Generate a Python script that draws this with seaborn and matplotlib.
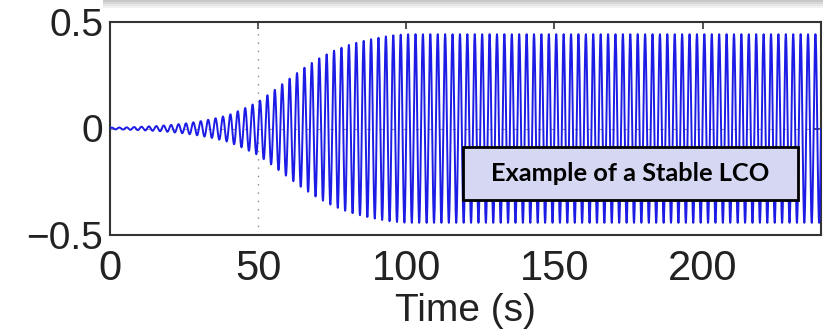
import numpy as np
import pandas as pd
import matplotlib
matplotlib.use("Agg")
import matplotlib.pyplot as plt
import seaborn as sns
from matplotlib.patches import Rectangle

# ---- data ----
env_time = [0, 5, 10, 15, 20, 25, 30, 35, 40, 45, 50, 55, 60, 65, 70, 75, 80, 85, 90, 95, 100, 240]
env_amp = [0.004, 0.005, 0.008, 0.011, 0.016, 0.023, 0.033, 0.046, 0.063, 0.092, 0.125, 0.175,
           0.228, 0.28, 0.325, 0.362, 0.39, 0.41, 0.425, 0.437, 0.443, 0.443]
period_s = 2.5
xticks = [0, 50, 100, 150, 200]
yticks = [-0.5, 0, 0.5]
ytick_labels = ["\u22120.5", "0", "0.5"]
marker_time = 50
x_label = "Time (s)"
box_text = "Example of a Stable LCO"

t = np.arange(0, 240.001, 0.04)
amp = np.interp(t, env_time, env_amp)
resp = amp * np.sin(2 * np.pi * t / period_s)
df = pd.DataFrame({"Time (s)": t, "response": resp})

sns.set_style("white")
plt.rcParams["font.family"] = ["Liberation Sans", "DejaVu Sans"]

W, H = 831, 334
fig = plt.figure(figsize=(W / 100, H / 100), dpi=100)
L, R, T, B = 110, 821, 22, 235
ax = fig.add_axes([L / W, 1 - B / H, (R - L) / W, (B - T) / H])

sns.lineplot(data=df, x="Time (s)", y="response", ax=ax, color="#1c1ce6",
             lw=1.4, estimator=None, zorder=3)
ax.axvline(marker_time, color="#8a8a8a", ls=(0, (1, 5)), lw=1.0, zorder=2)
ax.axhline(0, color="#9a9a9a", ls=(0, (3, 8)), lw=0.8, zorder=1)

ax.set_xlim(0, 240)
ax.set_ylim(-0.5, 0.5)
ax.set_xticks(xticks)
ax.set_xticklabels([str(v) for v in xticks], fontsize=30)
ax.set_yticks(yticks)
ax.set_yticklabels(ytick_labels, fontsize=28)
ax.set_ylabel("")
ax.set_xlabel(x_label, fontsize=28, color="#222222", labelpad=3)
ax.tick_params(axis="both", direction="in", top=True, right=True, length=5,
               width=1.2, colors="#333333", labelcolor="#222222")
ax.tick_params(axis="x", pad=10)
ax.tick_params(axis="y", pad=5)
for s in ax.spines.values():
    s.set_color("#333333")
    s.set_linewidth(1.5)

# label box
bx0, bx1, by0, by1 = 463, 798, 147, 200
fig.add_artist(Rectangle((bx0 / W, 1 - by1 / H), (bx1 - bx0) / W, (by1 - by0) / H,
                         transform=fig.transFigure, facecolor="#d6d8f3",
                         edgecolor="black", lw=2, zorder=10))
fig.text((bx0 + bx1) / 2 / W, 1 - (by0 + by1) / 2 / H, box_text, ha="center", va="center",
         fontsize=18.3, fontweight="bold", family=["Lato", "DejaVu Sans"], color="black",
         zorder=11)

# grey shadow strip at the top
for i, c in enumerate(["#c8c8c8", "#d8d8d8", "#e6e6e6", "#f1f1f1"]):
    fig.add_artist(Rectangle((103 / W, 1 - (i + 1) * 2 / H), (823 - 103) / W, 2 / H,
                             transform=fig.transFigure, facecolor=c, edgecolor="none",
                             zorder=0))

fig.savefig("out.png", dpi=100)
